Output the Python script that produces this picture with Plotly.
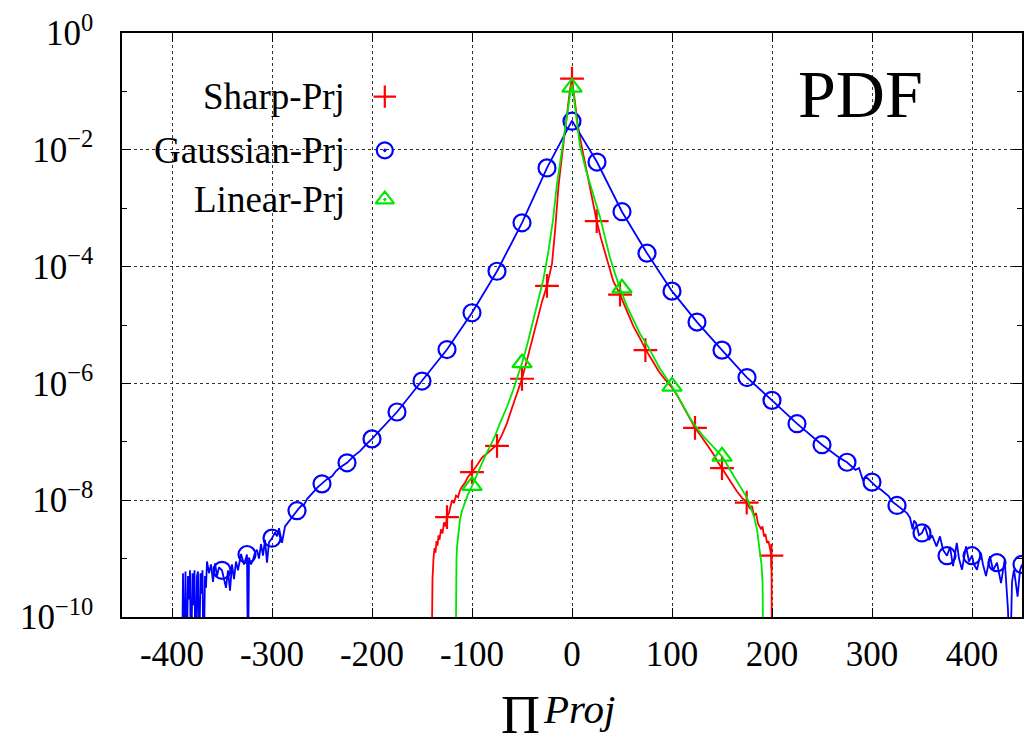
import numpy as np
import plotly.graph_objects as go

# ---------------- data ----------------
x_tick_vals = [-400, -300, -200, -100, 0, 100, 200, 300, 400]
x_tick_text = ["-400", "-300", "-200", "-100", "0", "100", "200", "300", "400"]
y_tick_exp = [0, -2, -4, -6, -8, -10]
y_tick_text = ["10<sup>0</sup>", "10<sup>−2</sup>", "10<sup>−4</sup>",
               "10<sup>−6</sup>", "10<sup>−8</sup>", "10<sup>−10</sup>"]
y_minor_exp = [-1, -3, -5, -7, -9]

series_names = ["Sharp-Prj", "Gaussian-Prj", "Linear-Prj"]
x_title_main = "Π"
x_title_sup = "Proj"
panel_label = "PDF"

# Sharp-Prj : full curve (x, log10 PDF)
sharp_line_x = [-140.5, -140.0, -139.5, -138.5, -137.5, -136.5, -135.5, -134.5, -133.5, -132.5,
                -131.0, -129.5, -128.0, -126.5, -125.0, -123.0, -121.5, -120.0, -118.0, -116.0,
                -114.0, -112.0, -110.0, -107.0, -104.0, -100.0, -95.0, -90.0, -85.0, -80.0,
                -75.0, -70.0, -65.0, -60.0, -55.0, -50.0, -45.0, -40.0, -35.0, -30.0,
                -25.0, -20.0, -17.0, -13.5, -10.0, -7.0, -4.0, -2.0, 0.0, 2.0,
                3.0, 6.0, 9.7, 14.0, 18.0, 21.0, 24.7, 29.0, 33.0, 37.0,
                41.3, 48.0, 55.0, 61.3, 68.0, 74.0, 80.0, 87.0, 93.0, 99.0,
                105.0, 111.0, 117.0, 123.0, 129.0, 135.0, 141.0, 146.0, 150.0, 155.0,
                160.0, 165.0, 170.0, 175.0, 178.0, 180.0, 182.0, 184.0, 186.0, 187.6,
                189.0, 190.5, 192.0, 193.5, 195.0, 196.5, 198.0, 199.4, 199.6, 199.8]
sharp_line_log = [-11.0, -9.6, -9.35, -9.0, -8.82, -8.9, -8.7, -8.78, -8.6, -8.68,
                  -8.5, -8.57, -8.38, -8.45, -8.29, -8.22, -8.12, -8.0, -8.05, -7.92,
                  -7.95, -7.83, -7.77, -7.7, -7.6, -7.52, -7.4, -7.27, -7.2, -7.12,
                  -7.05, -6.88, -6.68, -6.42, -6.15, -5.92, -5.6, -5.25, -4.93, -4.6,
                  -4.33, -3.95, -3.4, -2.62, -2.1, -1.65, -1.25, -0.97, -0.78, -1.05,
                  -1.25, -1.6, -1.94, -2.3, -2.62, -2.92, -3.22, -3.52, -3.75, -4.0,
                  -4.25, -4.48, -4.78, -5.02, -5.23, -5.43, -5.6, -5.8, -5.93, -6.05,
                  -6.2, -6.38, -6.58, -6.76, -6.9, -7.05, -7.2, -7.35, -7.45, -7.58,
                  -7.72, -7.85, -7.96, -8.04, -8.15, -8.1, -8.27, -8.22, -8.4, -8.45,
                  -8.5, -8.45, -8.62, -8.58, -8.73, -8.7, -8.85, -8.95, -9.3, -11.0]
sharp_pts_x = [-125, -100, -75, -50, -25, 0, 24.7, 48, 73.4, 123, 150, 174.7, 199.4]
sharp_pts_log = [-8.29, -7.52, -7.07, -5.92, -4.33, -0.78, -3.22, -4.48, -5.43, -6.76, -7.45, -8.04, -8.95]

# Gaussian-Prj : full curve (x, log10 PDF)
gauss_line_x = [-390, -389, -388, -386.5, -385.5, -384, -383, -382, -381, -379.5,
                -378.5, -377.5, -376.5, -375, -374, -373, -371.5, -370.5, -369.5, -368.5,
                -367, -366, -365, -363, -361, -359, -357, -355, -353, -350,
                -348, -346, -344, -342, -340, -338, -336, -334, -331, -328,
                -325, -324, -323, -321, -319, -317, -315, -313, -311, -309,
                -307, -305, -303, -300, -297, -295, -293, -290, -287, -284,
                -281, -278, -275, -271, -268, -265, -262, -258, -255, -250,
                -245, -240, -236, -232, -225, -218, -212, -206, -200, -175,
                -150, -125, -100, -75, -50, -25, 0, 25, 50, 75,
                100, 125, 150, 175, 200, 225, 250, 262, 268, 275,
                280, 283.5, 287, 290.8, 294, 300, 305, 309, 313, 316.6,
                320, 325, 330, 335, 338, 340.6, 342, 344, 347, 350,
                353, 357, 360, 364.5, 368, 371, 375, 378, 381, 384.8,
                387, 390, 394, 397, 400, 402, 405, 408.8, 411, 414,
                418, 421, 425, 427, 429, 432.7, 436, 438, 440, 442,
                445.6, 448, 450]
gauss_line_log = [-11.0, -9.25, -11.0, -9.22, -11.0, -9.3, -9.7, -9.2, -11.0, -9.25,
                  -9.8, -9.2, -11.0, -9.3, -9.22, -11.0, -9.25, -9.6, -9.2, -11.0,
                  -9.3, -9.5, -9.05, -9.25, -9.1, -9.4, -9.08, -9.3, -9.15, -9.2,
                  -9.35, -9.5, -9.2, -9.55, -9.1, -9.35, -9.05, -9.2, -8.92, -9.1,
                  -8.93, -11.0, -8.98, -9.1, -9.02, -8.9, -8.85, -9.0, -8.75, -8.95,
                  -8.68, -9.07, -8.72, -8.65, -8.55, -8.62, -8.48, -8.73, -8.45, -8.38,
                  -8.3, -8.25, -8.18, -8.1, -8.08, -7.98, -7.93, -7.85, -7.79, -7.72,
                  -7.64, -7.59, -7.5, -7.44, -7.36, -7.24, -7.16, -7.05, -6.95, -6.49,
                  -5.96, -5.42, -4.79, -4.08, -3.25, -2.31, -1.5, -2.21, -3.06, -3.77,
                  -4.42, -4.95, -5.43, -5.9, -6.29, -6.69, -7.05, -7.2, -7.28, -7.35,
                  -7.42, -7.48, -7.45, -7.65, -7.6, -7.69, -7.78, -7.82, -7.88, -7.93,
                  -8.02, -8.09, -8.15, -8.22, -8.3, -8.5, -8.35, -8.39, -8.6, -8.56,
                  -8.45, -8.68, -8.6, -8.79, -8.62, -8.85, -8.95, -8.8, -9.13, -8.73,
                  -9.0, -9.19, -8.79, -9.05, -8.95, -9.1, -9.19, -8.9, -9.1, -9.3,
                  -8.96, -9.2, -9.07, -9.25, -9.42, -9.02, -9.88, -11.0, -9.4, -9.19,
                  -9.65, -9.2, -9.1]
gauss_pts_x = [-350, -325, -300, -275, -250, -225, -200, -175, -150, -125, -100,
               -75, -50, -25, 0, 25, 50, 75, 100, 125, 150, 175, 200,
               225, 250, 275, 300, 325, 350, 375, 400, 425, 450]
gauss_pts_log = [-9.2, -8.93, -8.65, -8.18, -7.72, -7.36, -6.95, -6.49, -5.96, -5.42, -4.79,
                 -4.08, -3.25, -2.31, -1.51, -2.21, -3.06, -3.77, -4.42, -4.95, -5.43, -5.9, -6.29,
                 -6.69, -7.05, -7.35, -7.69, -8.09, -8.56, -8.95, -8.95, -9.07, -9.1]

# Linear-Prj : full curve (x, log10 PDF)
linear_line_x = [-116.5, -116.0, -115.5, -115.0, -114.0, -112.0, -110.0, -107.0, -104.0, -100.0,
                 -96.0, -92.0, -87.0, -82.0, -77.0, -72.0, -65.0, -58.7, -54.0, -50.0,
                 -45.0, -38.7, -33.0, -28.7, -23.7, -19.0, -15.3, -11.0, -7.0, -3.5,
                 -1.0, 0.0, 1.0, 4.0, 8.0, 14.0, 21.0, 28.0, 33.0, 38.0,
                 43.0, 48.0, 55.0, 61.0, 68.0, 76.0, 82.0, 88.0, 94.0, 100.0,
                 110.0, 120.0, 130.0, 140.0, 150.0, 158.0, 165.0, 170.0, 175.0, 182.0,
                 185.0, 187.6, 189.5, 190.6, 191.2]
linear_line_log = [-11.0, -9.4, -9.0, -8.8, -8.62, -8.33, -8.18, -8.04, -7.9, -7.76,
                   -7.6, -7.42, -7.25, -7.08, -6.9, -6.68, -6.4, -6.11, -5.88, -5.65,
                   -5.35, -4.91, -4.55, -4.22, -3.75, -3.2, -2.62, -2.1, -1.6, -1.2,
                   -0.95, -0.88, -0.97, -1.4, -1.94, -2.35, -2.73, -3.15, -3.5, -3.85,
                   -4.12, -4.37, -4.68, -4.91, -5.15, -5.37, -5.55, -5.75, -5.9, -6.05,
                   -6.35, -6.65, -6.88, -7.07, -7.25, -7.48, -7.68, -7.82, -7.96, -8.28,
                   -8.5, -8.85, -9.1, -9.42, -11.0]
linear_pts_x = [-100, -50, 0, 50, 100, 150]
linear_pts_log = [-7.75, -5.65, -0.93, -4.37, -6.05, -7.25]

# ---------------- styling ----------------
RED, BLUE, GREEN = "#ff0000", "#0000ff", "#00e600"
FONT = "Liberation Serif"


def pdf(v):
    return np.power(10.0, np.asarray(v, dtype=float))


fig = go.Figure()

# white key box hiding the grid (as gnuplot does)
fig.add_shape(type="rect", xref="paper", yref="paper", x0=0.0, x1=0.333,
              y0=0.663, y1=0.928, fillcolor="white", line_width=0, layer="between")

series = [
    (series_names[0], sharp_line_x, sharp_line_log, sharp_pts_x, sharp_pts_log, RED, "cross-thin-open", 17),
    (series_names[1], gauss_line_x, gauss_line_log, gauss_pts_x, gauss_pts_log, BLUE, "circle-open", 17),
    (series_names[2], linear_line_x, linear_line_log, linear_pts_x, linear_pts_log, GREEN, "triangle-up-open", 17),
]
for name, lx, ly, px, py, col, sym, sz in series:
    fig.add_trace(go.Scatter(x=lx, y=pdf(ly), mode="lines", line=dict(color=col, width=1.8),
                             showlegend=False, name=name, hoverinfo="skip"))
    fig.add_trace(go.Scatter(x=px, y=pdf(py), mode="markers", showlegend=False, name=name,
                             marker=dict(symbol=sym, size=sz, color=col, line=dict(color=col, width=2.2))))

# key (text right-aligned, symbol on the right)
key_rows_y = [0.891, 0.799, 0.715]
key_syms = ["cross-thin-open", "circle-open-dot", "triangle-up-open-dot"]
key_cols = [RED, BLUE, GREEN]
for name, ry, sym, col in zip(series_names, key_rows_y, key_syms, key_cols):
    fig.add_annotation(xref="paper", yref="paper", x=0.25, y=ry, text=name, showarrow=False,
                       xanchor="right", yanchor="middle", font=dict(family=FONT, size=37, color="black"))
    fig.add_trace(go.Scatter(x=[0.292], y=[ry], xaxis="x2", yaxis="y2", mode="markers",
                             showlegend=False, hoverinfo="skip",
                             marker=dict(symbol=sym, size=16, color=col, line=dict(color=col, width=2.2))))

fig.add_annotation(xref="paper", yref="paper", x=0.82, y=0.895, text=panel_label, showarrow=False,
                   xanchor="center", yanchor="middle", font=dict(family=FONT, size=68, color="black"))

# x-axis title  Π^{Proj}
fig.add_annotation(xref="paper", yref="paper", x=0.4433, y=-0.2226, text=x_title_main, showarrow=False,
                   xanchor="center", yanchor="bottom", font=dict(family=FONT, size=54, color="black"))
fig.add_annotation(xref="paper", yref="paper", x=0.466, y=-0.158, text="<i>" + x_title_sup + "</i>",
                   showarrow=False, xanchor="left", yanchor="middle",
                   font=dict(family=FONT, size=41, color="black"))

axis_common = dict(
    showline=True, linecolor="black", linewidth=1.5, mirror="allticks",
    ticks="inside", tickcolor="black", ticklen=9, tickwidth=1,
    showgrid=True, gridcolor="#333333", griddash="dot", gridwidth=1,
    zeroline=False, automargin=False, tickfont=dict(family=FONT, size=35, color="black"),
)

fig.update_layout(
    width=1028, height=747,
    margin=dict(l=122, r=6, t=33, b=130),
    paper_bgcolor="white", plot_bgcolor="white",
    showlegend=False,
    xaxis=dict(range=[-450, 450], tickvals=x_tick_vals, ticktext=x_tick_text,
               ticklabelstandoff=5, **axis_common),
    yaxis=dict(type="log", range=[-10, 0], tickvals=list(pdf(y_tick_exp)), ticktext=y_tick_text,
               ticklabelstandoff=20,
               minor=dict(tickvals=list(pdf(y_minor_exp)), ticks="inside", ticklen=5,
                          tickcolor="black", showgrid=False),
               **axis_common),
    xaxis2=dict(overlaying="x", range=[0, 1], visible=False),
    yaxis2=dict(overlaying="y", range=[0, 1], visible=False),
)

fig.write_html("out.html")
